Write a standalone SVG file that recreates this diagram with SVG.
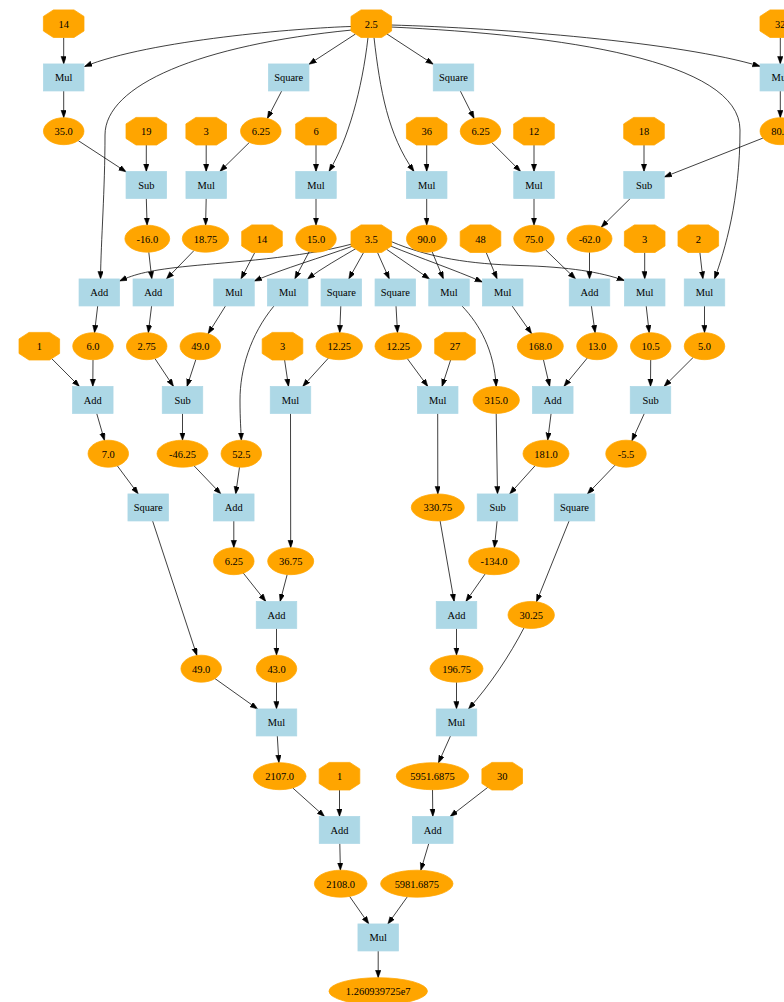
<svg xmlns="http://www.w3.org/2000/svg" width="784" height="1002" viewBox="0 0 784 1002">
<style>
.e path{fill:none;stroke:#000;stroke-width:0.75;marker-end:url(#arr)}
.op{fill:#add8e6;stroke:#add8e6;stroke-width:0.75}
.v{fill:#ffa500;stroke:#ffa500;stroke-width:0.75}
text{font-family:"Liberation Serif","Times New Roman",serif;font-size:10.45px;text-anchor:middle;fill:#000}
</style>
<defs>
<marker id="arr" markerWidth="10" markerHeight="10" refX="7.5" refY="2.7" orient="auto" markerUnits="userSpaceOnUse"><path d="M0,0 L7.5,2.7 L0,5.4 z" fill="#000" stroke="#000" stroke-width="0.5"/></marker>
<polygon id="oct" points="-10.3,-13.8 10.3,-13.8 20.3,-7.3 20.3,7.3 10.3,13.8 -10.3,13.8 -20.3,7.3 -20.3,-7.3"/>
<rect id="box" x="-20.25" y="-13.5" width="40.5" height="27"/>
</defs>
<rect width="784" height="1002" fill="#fff"/>
<g id="connectors" class="e">
<path d="M63.7,37.5 L63.7,63.95"/>
<path d="M780.3,37.5 L780.3,63.95"/>
<path d="M63.7,90.95 L63.7,117.7"/>
<path d="M780.3,90.95 L780.3,117.7"/>
<path d="M355.5,34 L308.95,64.27"/>
<path d="M387,34 L433.25,64.2"/>
<path d="M281.7,90.95 L267.4,118.4"/>
<path d="M460.3,90.95 L474.1,118.4"/>
<path d="M78.2,140.6 L126.05,171.8"/>
<path d="M146.3,145 L146.3,171.45"/>
<path d="M206.2,145 L206.2,171.45"/>
<path d="M249.4,142.4 L219.9,171.45"/>
<path d="M316,145 L316,171.45"/>
<path d="M206.2,198.45 L205.6,225.2"/>
<path d="M146.3,198.45 L147.1,225.2"/>
<path d="M316,198.45 L316,225.2"/>
<path d="M426.7,145 L426.7,171.45"/>
<path d="M491.7,142.45 L520.6,171.45"/>
<path d="M534,145 L534,171.45"/>
<path d="M644,145 L644,171.45"/>
<path d="M762.9,138.1 L664.25,176.96"/>
<path d="M426.7,198.45 L426.7,225.2"/>
<path d="M534,198.45 L534,225.2"/>
<path d="M630.3,198.45 L601.2,227.2"/>
<path d="M351,26.5 C300,28 150,40 84.5,66.5"/>
<path d="M352,30 C200,45 105,85 105,135 C105,190 101,240 100.5,278.95"/>
<path d="M368,37.5 C362,90 348,140 329,171.45"/>
<path d="M374,37.5 C380,90 388,135 414,171.45"/>
<path d="M391,25 C500,28 680,42 760.05,66.3"/>
<path d="M391,27 C560,35 740,60 740,130 C740,200 725,250 714.5,278.95"/>
<path d="M148.8,252.17 L151.8,278.95"/>
<path d="M194.1,250.45 L166.4,278.95"/>
<path d="M254.8,252.5 L241,278.95"/>
<path d="M309.3,251.44 L294.8,278.95"/>
<path d="M432.1,251.7 L443.4,278.95"/>
<path d="M486.2,252.5 L497.1,278.95"/>
<path d="M545.5,249.8 L575.6,278.95"/>
<path d="M589.5,252.2 L589.5,278.95"/>
<path d="M644.7,252.5 L644.7,278.95"/>
<path d="M699.9,252.5 L702.9,278.95"/>
<path d="M352,244 C300,258 230,262 190,266 C150,270 135,274 119.55,281"/>
<path d="M353,246 C320,258 285,268 254.25,281"/>
<path d="M356,248.5 C340,258 322,268 307.5,279"/>
<path d="M363.6,252.5 L348.8,278.95"/>
<path d="M377.5,252.5 L389.3,278.95"/>
<path d="M386.6,249.3 L429.5,278.95"/>
<path d="M390.6,246 C420,258 455,270 482.45,282"/>
<path d="M391,241.5 C430,258 470,264 520,265.5 C570,267 600,272 624.45,280.5"/>
<path d="M97.7,305.95 L94.5,332.7"/>
<path d="M151.6,305.95 L148.3,332.7"/>
<path d="M225.5,305.95 L208.1,333.75"/>
<path d="M274,305.95 C250,335 240,370 240,400 C240,420 241,430 241.3,440.2"/>
<path d="M340.8,305.95 L339.7,332.7"/>
<path d="M396,305.95 L397.5,332.7"/>
<path d="M462,305.95 C480,325 494,350 496.2,386.45"/>
<path d="M512.1,305.95 L531.6,333.7"/>
<path d="M591.4,305.95 L595.1,332.7"/>
<path d="M646.2,305.95 L649.2,332.7"/>
<path d="M704.5,305.95 L704.5,332.7"/>
<path d="M51.7,358.6 L79.4,386.45"/>
<path d="M93,359.7 L92.8,386.45"/>
<path d="M154.9,358.5 L173.5,386.45"/>
<path d="M195.9,359.4 L187,386.45"/>
<path d="M284.6,360 L288.5,386.45"/>
<path d="M328.4,358.1 L302.7,386.45"/>
<path d="M407.3,358.6 L427.8,386.45"/>
<path d="M450.6,360 L442,386.45"/>
<path d="M543.4,359.6 L549.7,386.45"/>
<path d="M587.3,358 L563.9,386.45"/>
<path d="M650.7,359.7 L650.5,386.45"/>
<path d="M693.2,357.4 L664.05,386.45"/>
<path d="M96.7,413.45 L104.5,440.4"/>
<path d="M182.5,413.45 L182.5,440.2"/>
<path d="M290.5,413.45 L290.7,547.7"/>
<path d="M437.7,413.45 L437.8,493.95"/>
<path d="M496.2,413.45 L497.5,493.95"/>
<path d="M551.1,413.45 L547.7,440.2"/>
<path d="M644.35,413.45 L631.9,440.8"/>
<path d="M117.3,465.8 L138.2,493.95"/>
<path d="M194,465.75 L220.9,493.95"/>
<path d="M239.5,467.2 L235.7,493.95"/>
<path d="M535.2,465.6 L509.7,493.95"/>
<path d="M615.1,465.1 L587.4,493.95"/>
<path d="M152.6,520.95 L196.9,655.5"/>
<path d="M233.8,520.95 L233.8,547.7"/>
<path d="M440.1,520.9 L454.15,601.45"/>
<path d="M497.1,520.95 L494.4,547.7"/>
<path d="M569.1,520.95 L536.5,601.8"/>
<path d="M243.3,573.1 L265.8,601.45"/>
<path d="M287.2,574.5 L280.1,601.45"/>
<path d="M485.2,573.85 L465.9,601.45"/>
<path d="M276.5,628.45 L276.5,655.2"/>
<path d="M456.5,628.45 L456.5,655.2"/>
<path d="M524,627.8 C510,655 490,685 468.5,708.95"/>
<path d="M215,678.6 L257.6,708.95"/>
<path d="M276.5,682.2 L276.5,708.95"/>
<path d="M456.5,682.2 L456.5,708.95"/>
<path d="M277.3,735.95 L278.9,762.7"/>
<path d="M450.5,735.95 L438.45,762.9"/>
<path d="M292.7,787.9 L324.5,816.45"/>
<path d="M339.5,790 L339.5,816.45"/>
<path d="M432.5,789.7 L432.8,816.45"/>
<path d="M487.8,787.3 L450.2,816.45"/>
<path d="M339.8,843.45 L340.4,870.2"/>
<path d="M428.8,843.45 L420.8,870.3"/>
<path d="M349.6,896.4 L368.8,923.95"/>
<path d="M407.4,896.7 L387.9,923.95"/>
<path d="M378.2,950.95 L378.2,977.7"/>
</g>
<g id="n_c14a" transform="translate(63.7,23.7)"><use href="#oct" class="v"/><text y="3.8">14</text></g>
<g id="n_c2_5" transform="translate(371.3,23.7)"><use href="#oct" class="v"/><text y="3.8">2.5</text></g>
<g id="n_c32" transform="translate(780.3,23.7)"><use href="#oct" class="v"/><text y="3.8">32</text></g>
<g id="n_mul1" transform="translate(63.7,77.45)"><use href="#box" class="op"/><text y="3.8">Mul</text></g>
<g id="n_sq1" transform="translate(288.7,77.45)"><use href="#box" class="op"/><text y="3.8">Square</text></g>
<g id="n_sq2" transform="translate(453.5,77.45)"><use href="#box" class="op"/><text y="3.8">Square</text></g>
<g id="n_mul2" transform="translate(780.3,77.45)"><use href="#box" class="op"/><text y="3.8">Mul</text></g>
<g id="n_v35" transform="translate(63.7,131.2)"><ellipse rx="20.25" ry="13.5" class="v"/><text y="3.8">35.0</text></g>
<g id="n_c19" transform="translate(146.3,131.2)"><use href="#oct" class="v"/><text y="3.8">19</text></g>
<g id="n_c3a" transform="translate(206.2,131.2)"><use href="#oct" class="v"/><text y="3.8">3</text></g>
<g id="n_v625a" transform="translate(260.8,131.2)"><ellipse rx="20.25" ry="13.5" class="v"/><text y="3.8">6.25</text></g>
<g id="n_c6" transform="translate(316,131.2)"><use href="#oct" class="v"/><text y="3.8">6</text></g>
<g id="n_c36" transform="translate(426.7,131.2)"><use href="#oct" class="v"/><text y="3.8">36</text></g>
<g id="n_v625b" transform="translate(480.5,131.2)"><ellipse rx="20.25" ry="13.5" class="v"/><text y="3.8">6.25</text></g>
<g id="n_c12" transform="translate(534,131.2)"><use href="#oct" class="v"/><text y="3.8">12</text></g>
<g id="n_c18" transform="translate(644,131.2)"><use href="#oct" class="v"/><text y="3.8">18</text></g>
<g id="n_v80" transform="translate(780.3,131.2)"><ellipse rx="20.25" ry="13.5" class="v"/><text y="3.8">80.0</text></g>
<g id="n_sub1" transform="translate(146.3,184.95)"><use href="#box" class="op"/><text y="3.8">Sub</text></g>
<g id="n_mul3" transform="translate(206.2,184.95)"><use href="#box" class="op"/><text y="3.8">Mul</text></g>
<g id="n_mul4" transform="translate(316,184.95)"><use href="#box" class="op"/><text y="3.8">Mul</text></g>
<g id="n_mul5" transform="translate(426.7,184.95)"><use href="#box" class="op"/><text y="3.8">Mul</text></g>
<g id="n_mul6" transform="translate(534,184.95)"><use href="#box" class="op"/><text y="3.8">Mul</text></g>
<g id="n_sub2" transform="translate(644,184.95)"><use href="#box" class="op"/><text y="3.8">Sub</text></g>
<g id="n_vm16" transform="translate(147.3,238.7)"><ellipse rx="22.4" ry="13.5" class="v"/><text y="3.8">-16.0</text></g>
<g id="n_v1875" transform="translate(205.5,238.7)"><ellipse rx="23.2" ry="13.5" class="v"/><text y="3.8">18.75</text></g>
<g id="n_c14b" transform="translate(262,238.7)"><use href="#oct" class="v"/><text y="3.8">14</text></g>
<g id="n_v15" transform="translate(316,238.7)"><ellipse rx="20.25" ry="13.5" class="v"/><text y="3.8">15.0</text></g>
<g id="n_c3_5" transform="translate(371.3,238.7)"><use href="#oct" class="v"/><text y="3.8">3.5</text></g>
<g id="n_v90" transform="translate(426.7,238.7)"><ellipse rx="20.25" ry="13.5" class="v"/><text y="3.8">90.0</text></g>
<g id="n_c48" transform="translate(480.5,238.7)"><use href="#oct" class="v"/><text y="3.8">48</text></g>
<g id="n_v75" transform="translate(534,238.7)"><ellipse rx="20.25" ry="13.5" class="v"/><text y="3.8">75.0</text></g>
<g id="n_vm62" transform="translate(589.5,238.7)"><ellipse rx="22.5" ry="13.5" class="v"/><text y="3.8">-62.0</text></g>
<g id="n_c3b" transform="translate(644.7,238.7)"><use href="#oct" class="v"/><text y="3.8">3</text></g>
<g id="n_c2" transform="translate(698.3,238.7)"><use href="#oct" class="v"/><text y="3.8">2</text></g>
<g id="n_add1" transform="translate(99.3,292.45)"><use href="#box" class="op"/><text y="3.8">Add</text></g>
<g id="n_add2" transform="translate(153.3,292.45)"><use href="#box" class="op"/><text y="3.8">Add</text></g>
<g id="n_mul7" transform="translate(234,292.45)"><use href="#box" class="op"/><text y="3.8">Mul</text></g>
<g id="n_mul8" transform="translate(287.7,292.45)"><use href="#box" class="op"/><text y="3.8">Mul</text></g>
<g id="n_sq3" transform="translate(341.3,292.45)"><use href="#box" class="op"/><text y="3.8">Square</text></g>
<g id="n_sq4" transform="translate(395.3,292.45)"><use href="#box" class="op"/><text y="3.8">Square</text></g>
<g id="n_mul9" transform="translate(449,292.45)"><use href="#box" class="op"/><text y="3.8">Mul</text></g>
<g id="n_mul10" transform="translate(502.7,292.45)"><use href="#box" class="op"/><text y="3.8">Mul</text></g>
<g id="n_add3" transform="translate(589.5,292.45)"><use href="#box" class="op"/><text y="3.8">Add</text></g>
<g id="n_mul11" transform="translate(644.7,292.45)"><use href="#box" class="op"/><text y="3.8">Mul</text></g>
<g id="n_mul12" transform="translate(704.5,292.45)"><use href="#box" class="op"/><text y="3.8">Mul</text></g>
<g id="n_c1a" transform="translate(39.3,346.2)"><use href="#oct" class="v"/><text y="3.8">1</text></g>
<g id="n_v6" transform="translate(93,346.2)"><ellipse rx="20.25" ry="13.5" class="v"/><text y="3.8">6.0</text></g>
<g id="n_v275" transform="translate(146.7,346.2)"><ellipse rx="20.25" ry="13.5" class="v"/><text y="3.8">2.75</text></g>
<g id="n_v49a" transform="translate(200.3,346.2)"><ellipse rx="20.25" ry="13.5" class="v"/><text y="3.8">49.0</text></g>
<g id="n_c3c" transform="translate(282.5,346.2)"><use href="#oct" class="v"/><text y="3.8">3</text></g>
<g id="n_v1225a" transform="translate(339.2,346.2)"><ellipse rx="23.2" ry="13.5" class="v"/><text y="3.8">12.25</text></g>
<g id="n_v1225b" transform="translate(398.2,346.2)"><ellipse rx="23.2" ry="13.5" class="v"/><text y="3.8">12.25</text></g>
<g id="n_c27" transform="translate(455,346.2)"><use href="#oct" class="v"/><text y="3.8">27</text></g>
<g id="n_v168" transform="translate(540.3,346.2)"><ellipse rx="23" ry="13.5" class="v"/><text y="3.8">168.0</text></g>
<g id="n_v13" transform="translate(597,346.2)"><ellipse rx="20.25" ry="13.5" class="v"/><text y="3.8">13.0</text></g>
<g id="n_v105" transform="translate(650.7,346.2)"><ellipse rx="20.25" ry="13.5" class="v"/><text y="3.8">10.5</text></g>
<g id="n_v5" transform="translate(704.5,346.2)"><ellipse rx="20.25" ry="13.5" class="v"/><text y="3.8">5.0</text></g>
<g id="n_add4" transform="translate(92.8,399.95)"><use href="#box" class="op"/><text y="3.8">Add</text></g>
<g id="n_sub3" transform="translate(182.5,399.95)"><use href="#box" class="op"/><text y="3.8">Sub</text></g>
<g id="n_mul13" transform="translate(290.5,399.95)"><use href="#box" class="op"/><text y="3.8">Mul</text></g>
<g id="n_mul14" transform="translate(437.7,399.95)"><use href="#box" class="op"/><text y="3.8">Mul</text></g>
<g id="n_v315" transform="translate(496.2,399.95)"><ellipse rx="23.2" ry="13.5" class="v"/><text y="3.8">315.0</text></g>
<g id="n_add5" transform="translate(552.8,399.95)"><use href="#box" class="op"/><text y="3.8">Add</text></g>
<g id="n_sub4" transform="translate(650.5,399.95)"><use href="#box" class="op"/><text y="3.8">Sub</text></g>
<g id="n_v7" transform="translate(108.3,453.7)"><ellipse rx="20.25" ry="13.5" class="v"/><text y="3.8">7.0</text></g>
<g id="n_vm4625" transform="translate(182.5,453.7)"><ellipse rx="25.5" ry="13.5" class="v"/><text y="3.8">-46.25</text></g>
<g id="n_v525" transform="translate(241.3,453.7)"><ellipse rx="20.25" ry="13.5" class="v"/><text y="3.8">52.5</text></g>
<g id="n_v181" transform="translate(546,453.7)"><ellipse rx="23" ry="13.5" class="v"/><text y="3.8">181.0</text></g>
<g id="n_vm55" transform="translate(626,453.7)"><ellipse rx="20.25" ry="13.5" class="v"/><text y="3.8">-5.5</text></g>
<g id="n_sq5" transform="translate(148.2,507.45)"><use href="#box" class="op"/><text y="3.8">Square</text></g>
<g id="n_add6" transform="translate(233.8,507.45)"><use href="#box" class="op"/><text y="3.8">Add</text></g>
<g id="n_v33075" transform="translate(437.8,507.45)"><ellipse rx="26.5" ry="13.5" class="v"/><text y="3.8">330.75</text></g>
<g id="n_sub5" transform="translate(497.5,507.45)"><use href="#box" class="op"/><text y="3.8">Sub</text></g>
<g id="n_sq6" transform="translate(574.5,507.45)"><use href="#box" class="op"/><text y="3.8">Square</text></g>
<g id="n_v625c" transform="translate(233.8,561.2)"><ellipse rx="20.25" ry="13.5" class="v"/><text y="3.8">6.25</text></g>
<g id="n_v3675" transform="translate(290.7,561.2)"><ellipse rx="23" ry="13.5" class="v"/><text y="3.8">36.75</text></g>
<g id="n_vm134" transform="translate(494,561.2)"><ellipse rx="25.3" ry="13.5" class="v"/><text y="3.8">-134.0</text></g>
<g id="n_add7" transform="translate(276.5,614.95)"><use href="#box" class="op"/><text y="3.8">Add</text></g>
<g id="n_add8" transform="translate(456.5,614.95)"><use href="#box" class="op"/><text y="3.8">Add</text></g>
<g id="n_v3025" transform="translate(531.2,614.95)"><ellipse rx="23.2" ry="13.5" class="v"/><text y="3.8">30.25</text></g>
<g id="n_v49b" transform="translate(201.2,668.7)"><ellipse rx="20.25" ry="13.5" class="v"/><text y="3.8">49.0</text></g>
<g id="n_v43" transform="translate(276.5,668.7)"><ellipse rx="20.25" ry="13.5" class="v"/><text y="3.8">43.0</text></g>
<g id="n_v19675" transform="translate(456.5,668.7)"><ellipse rx="26.5" ry="13.5" class="v"/><text y="3.8">196.75</text></g>
<g id="n_mul15" transform="translate(276.5,722.45)"><use href="#box" class="op"/><text y="3.8">Mul</text></g>
<g id="n_mul16" transform="translate(456.5,722.45)"><use href="#box" class="op"/><text y="3.8">Mul</text></g>
<g id="n_v2107" transform="translate(279.7,776.2)"><ellipse rx="26.3" ry="13.5" class="v"/><text y="3.8">2107.0</text></g>
<g id="n_c1b" transform="translate(339.5,776.2)"><use href="#oct" class="v"/><text y="3.8">1</text></g>
<g id="n_v5951" transform="translate(432.5,776.2)"><ellipse rx="36.2" ry="13.5" class="v"/><text y="3.8">5951.6875</text></g>
<g id="n_c30" transform="translate(502.2,776.2)"><use href="#oct" class="v"/><text y="3.8">30</text></g>
<g id="n_add9" transform="translate(339.5,829.95)"><use href="#box" class="op"/><text y="3.8">Add</text></g>
<g id="n_add10" transform="translate(432.8,829.95)"><use href="#box" class="op"/><text y="3.8">Add</text></g>
<g id="n_v2108" transform="translate(340.7,883.7)"><ellipse rx="26.3" ry="13.5" class="v"/><text y="3.8">2108.0</text></g>
<g id="n_v5981" transform="translate(416.8,883.7)"><ellipse rx="36.2" ry="13.5" class="v"/><text y="3.8">5981.6875</text></g>
<g id="n_mul17" transform="translate(378.2,937.45)"><use href="#box" class="op"/><text y="3.8">Mul</text></g>
<g id="n_vres" transform="translate(378.2,991.2)"><ellipse rx="49.2" ry="13.5" class="v"/><text y="3.8">1.260939725e7</text></g>
</svg>
